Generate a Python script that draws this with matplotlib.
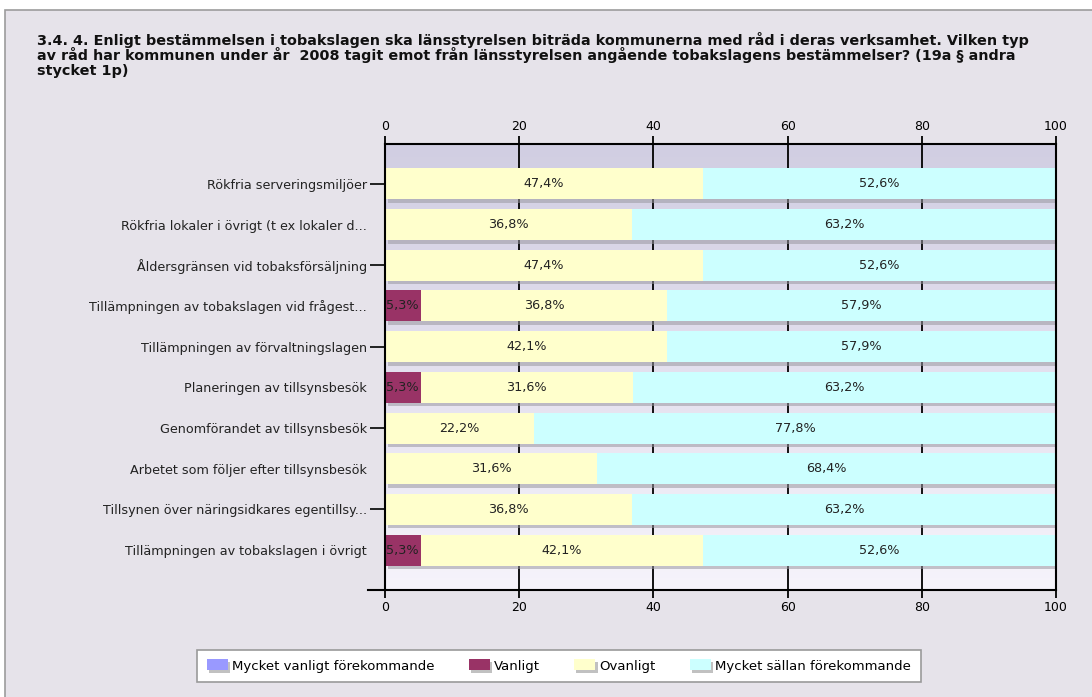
import numpy as np
import matplotlib
matplotlib.use('Agg')
import matplotlib.pyplot as plt
import matplotlib.patheffects as pe
from matplotlib.patches import Rectangle, Patch
from matplotlib.colors import LinearSegmentedColormap

categories = ['Rökfria serveringsmiljöer',
              'Rökfria lokaler i övrigt (t ex lokaler d...',
              'Åldersgränsen vid tobaksförsäljning',
              'Tillämpningen av tobakslagen vid frågest...',
              'Tillämpningen av förvaltningslagen',
              'Planeringen av tillsynsbesök',
              'Genomförandet av tillsynsbesök',
              'Arbetet som följer efter tillsynsbesök',
              'Tillsynen över näringsidkares egentillsy...',
              'Tillämpningen av tobakslagen i övrigt']
series_names = ['Mycket vanligt förekommande', 'Vanligt', 'Ovanligt', 'Mycket sällan förekommande']
mycket_vanligt = [0, 0, 0, 0, 0, 0, 0, 0, 0, 0]
vanligt = [0, 0, 0, 5.3, 0, 5.3, 0, 0, 0, 5.3]
ovanligt = [47.4, 36.8, 47.4, 36.8, 42.1, 31.6, 22.2, 31.6, 36.8, 42.1]
mycket_sallan = [52.6, 63.2, 52.6, 57.9, 57.9, 63.2, 77.8, 68.4, 63.2, 52.6]
xticks = [0, 20, 40, 60, 80, 100]

colors = ['#9999ff', '#993366', '#ffffcc', '#ccffff']
title_lines = ['3.4. 4. Enligt bestämmelsen i tobakslagen ska länsstyrelsen biträda kommunerna med råd i deras verksamhet. Vilken typ',
               'av råd har kommunen under år  2008 tagit emot från länsstyrelsen angående tobakslagens bestämmelser? (19a § andra',
               'stycket 1p)']

plt.rcParams['font.family'] = ['DejaVu Sans']

W, H = 1092, 697
fig = plt.figure(figsize=(W / 100, H / 100), dpi=100, facecolor='white')

# grey panel with border
fig.patches.append(Rectangle((5 / W, -0.01), 1.0, 1 - 10 / H + 0.01, transform=fig.transFigure,
                             facecolor='#e6e3ea', edgecolor='#9c9c9c', lw=1.2, zorder=-5))

for i, line in enumerate(title_lines):
    fig.text(37 / W, 1 - (45.5 + 14.5 * i) / H, line, fontsize=10.4, fontweight='bold',
             va='baseline', ha='left', color='#111111')

ax = fig.add_axes([385 / W, 1 - 590 / H, (1056 - 385) / W, (590 - 144) / H])
ax.set_zorder(2)
ax.set_xlim(0, 100)
ax.set_ylim(9.98, -0.98)

grad = LinearSegmentedColormap.from_list('bg', ['#d1cee2', '#e3e0ee', '#f6f4fb'])
ax.imshow(np.linspace(0, 1, 256).reshape(-1, 1), extent=[0, 100, 9.98, -0.98],
          cmap=grad, aspect='auto', zorder=0)

for x in xticks[1:-1]:
    ax.axvline(x, color='black', lw=1.3, zorder=1)

y = np.arange(len(categories))
data = [mycket_vanligt, vanligt, ovanligt, mycket_sallan]
left = np.zeros(len(categories))
shadow = [pe.SimplePatchShadow(offset=(2, -2.5), shadow_rgbFace='#9a98a0', alpha=0.55), pe.Normal()]
for name, vals, col in zip(series_names, data, colors):
    vals = np.array(vals, dtype=float)
    bars = ax.barh(y, vals, left=left, height=0.76, color=col, zorder=2, label=name)
    for b in bars:
        b.set_path_effects(shadow)
    for yi, l, v in zip(y, left, vals):
        if v > 0:
            ax.text(l + v / 2, yi, f'{v:.1f}%'.replace('.', ','), ha='center', va='center',
                    fontsize=9.2, color='#222222', zorder=3)
    left = left + vals

for s in ax.spines.values():
    s.set_color('black')
    s.set_linewidth(1.5)
ax.plot([-0.025, 0], [0, 0], transform=ax.transAxes, color='black', lw=1.5, clip_on=False)

ax.set_xticks(xticks)
ax.tick_params(axis='x', which='major', top=True, labeltop=True, bottom=True, labelbottom=True,
               direction='out', length=6, width=1.3, labelsize=9, pad=2, colors='black')
ax.yaxis.remove_overlapping_locs = False
ax.set_yticks(y)
ax.set_yticklabels(categories)
ax.tick_params(axis='y', which='major', length=0, pad=13, labelsize=9.2, labelcolor='#222222')
ax.set_yticks(y[::2], minor=True)
ax.tick_params(axis='y', which='minor', length=11, width=1.2, direction='out', color='black')

handles = [Patch(facecolor=c, edgecolor='none', label=n,
                 path_effects=[pe.SimplePatchShadow(offset=(1.5, -1.5), shadow_rgbFace='#999999', alpha=0.6), pe.Normal()])
           for n, c in zip(series_names, colors)]
leg = fig.legend(handles=handles, ncol=4, loc='center', bbox_to_anchor=(559 / W, 1 - 666 / H),
                 fontsize=9.5, frameon=True, fancybox=False, edgecolor='#9a9a9a', facecolor='white',
                 framealpha=1, handlelength=1.6, handleheight=0.9, handletextpad=0.3,
                 columnspacing=2.6, borderpad=0.75)
leg.get_frame().set_linewidth(1.2)

fig.savefig('out.png', dpi=100, facecolor=fig.get_facecolor())
